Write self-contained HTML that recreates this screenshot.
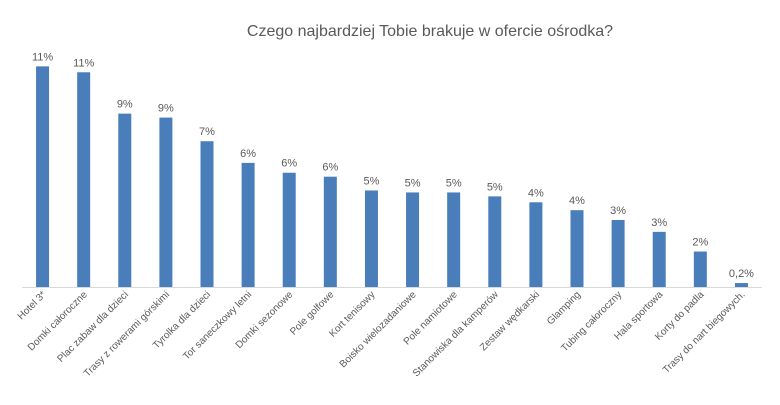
<!DOCTYPE html>
<html><head><meta charset="utf-8">
<style>
html,body{margin:0;padding:0;background:#fff;}
svg{display:block;font-family:"Liberation Sans",sans-serif;}
</style></head>
<body>
<svg id="chart" width="780" height="405" viewBox="0 0 780 405" xmlns="http://www.w3.org/2000/svg">
<text x="430" y="36" text-anchor="middle" font-size="16" fill="#595959">Czego najbardziej Tobie brakuje w ofercie ośrodka?</text>
<line x1="22" y1="287.5" x2="762" y2="287.5" stroke="#d9d9d9" stroke-width="1"/>
<g id="bars"></g>
</svg>
<script>
const categories = ["Hotel 3*","Domki całoroczne","Plac zabaw dla dzieci","Trasy z rowerami górskimi","Tyrolka dla dzieci","Tor saneczkowy letni","Domki sezonowe","Pole golfowe","Kort tenisowy","Boisko wielozadaniowe","Pole namiotowe","Stanowiska dla kamperów","Zestaw wędkarski","Glamping","Tubing całoroczny","Hala sportowa","Korty do padla","Trasy do nart biegowych."];
const values = [11.2,10.9,8.8,8.6,7.4,6.3,5.8,5.6,4.9,4.8,4.8,4.6,4.3,3.9,3.4,2.8,1.8,0.2];
const NS="http://www.w3.org/2000/svg";
const g=document.getElementById('bars');
const x0=22,x1=762,base=287,pxPer=19.7;
const step=(x1-x0)/categories.length;
function xScale(i){return x0+step*(i+0.5);}
function yScale(v){return base-v*pxPer;}
function fmt(v){return v<1?v.toFixed(1).replace('.',',')+'%':Math.round(v)+'%';}
categories.forEach((c,i)=>{
  const cx=xScale(i), y=yScale(values[i]);
  const r=document.createElementNS(NS,'rect');
  
  
  r.setAttribute('x',cx-6.5);r.setAttribute('y',y);
  r.setAttribute('width',13);r.setAttribute('height',base-y);
  r.setAttribute('fill','#4a7ebb');
  g.appendChild(r);
  const t=document.createElementNS(NS,'text');
  
  
  t.setAttribute('x',cx);t.setAttribute('y',y-6);
  t.setAttribute('text-anchor','middle');t.setAttribute('font-size','11');t.setAttribute('fill','#595959');
  t.textContent=fmt(values[i]);
  g.appendChild(t);
  const l=document.createElementNS(NS,'text');
  
  
  l.setAttribute('transform','translate('+(cx+4)+','+(base+8)+') rotate(-45)');
  l.setAttribute('text-anchor','end');l.setAttribute('font-size','10');l.setAttribute('fill','#595959');
  l.textContent=c;
  g.appendChild(l);
});
</script>
</body></html>
